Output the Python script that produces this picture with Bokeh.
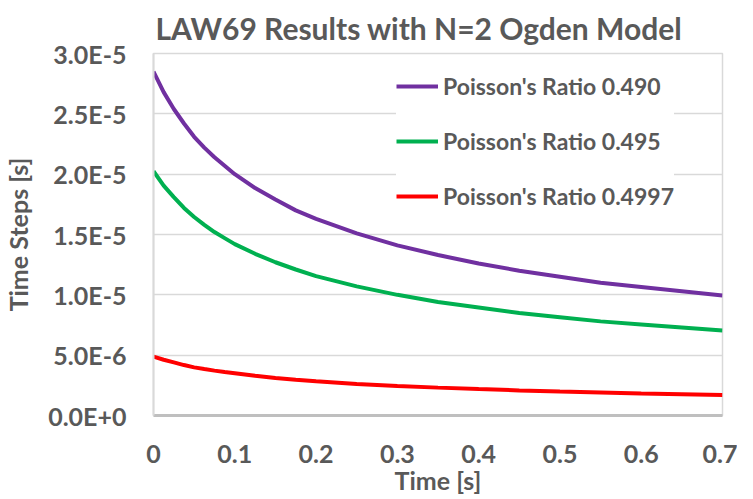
from bokeh.plotting import figure
from bokeh.models import Range1d, FixedTicker, Legend, LegendItem
from bokeh.embed import file_html
from bokeh.resources import INLINE

# ---- data ----
time_s = [0.0, 0.0125, 0.025, 0.0375, 0.05, 0.0625, 0.075, 0.0875, 0.10, 0.125, 0.15, 0.175,
          0.20, 0.25, 0.30, 0.35, 0.40, 0.45, 0.50, 0.55, 0.60, 0.65, 0.70]
ratio_0490 = [2.85e-5, 2.68e-5, 2.54e-5, 2.42e-5, 2.31e-5, 2.22e-5, 2.14e-5, 2.07e-5, 2.00e-5,
              1.885e-5, 1.79e-5, 1.70e-5, 1.63e-5, 1.51e-5, 1.41e-5, 1.33e-5, 1.26e-5,
              1.20e-5, 1.15e-5, 1.10e-5, 1.065e-5, 1.03e-5, 0.995e-5]
ratio_0495 = [2.025e-5, 1.905e-5, 1.81e-5, 1.72e-5, 1.645e-5, 1.58e-5, 1.52e-5, 1.47e-5, 1.42e-5,
              1.34e-5, 1.27e-5, 1.21e-5, 1.155e-5, 1.07e-5, 1.00e-5, 0.94e-5, 0.895e-5,
              0.85e-5, 0.815e-5, 0.78e-5, 0.755e-5, 0.73e-5, 0.705e-5]
ratio_04997 = [4.88e-6, 4.62e-6, 4.40e-6, 4.18e-6, 3.99e-6, 3.85e-6, 3.72e-6, 3.60e-6, 3.50e-6,
               3.29e-6, 3.11e-6, 2.97e-6, 2.84e-6, 2.62e-6, 2.45e-6, 2.31e-6, 2.19e-6,
               2.08e-6, 1.99e-6, 1.91e-6, 1.83e-6, 1.76e-6, 1.69e-6]
series_names = ["Poisson's Ratio 0.490", "Poisson's Ratio 0.495", "Poisson's Ratio 0.4997"]
series_colors = ["#7030A0", "#00B050", "#FF0000"]

x_ticks = [0, 0.1, 0.2, 0.3, 0.4, 0.5, 0.6, 0.7]
x_labels = ["0", "0.1", "0.2", "0.3", "0.4", "0.5", "0.6", "0.7"]
y_ticks = [0, 5e-6, 1e-5, 1.5e-5, 2e-5, 2.5e-5, 3e-5]
y_labels = ["0.0E+0", "5.0E-6", "1.0E-5", "1.5E-5", "2.0E-5", "2.5E-5", "3.0E-5"]
x_title = "Time [s]"
y_title = "Time Steps [s]"

FONT = "Lato"
TXT = "#595959"

p = figure(width=737, height=505, output_backend="svg", toolbar_location=None,
           x_range=Range1d(0, 0.7), y_range=Range1d(0, 3e-5),
           min_border_left=151, min_border_right=15, min_border_top=48, min_border_bottom=90,
           title="LAW69 Results with N=2 Ogden Model")

p.title.text_font = FONT
p.title.text_font_size = "30px"
p.title.text_font_style = "bold"
p.title.text_color = TXT
p.title.align = "left"
p.title.offset = 2
p.title.standoff = 15

p.outline_line_color = "#d9d9d9"
p.outline_line_width = 1.5
p.xgrid.grid_line_color = None
p.ygrid.grid_line_color = "#d9d9d9"
p.ygrid.grid_line_width = 1.5

p.xaxis.ticker = FixedTicker(ticks=x_ticks)
p.xaxis.major_label_overrides = dict(zip(x_ticks, x_labels))
p.yaxis.ticker = FixedTicker(ticks=y_ticks)
p.yaxis.major_label_overrides = dict(zip(y_ticks, y_labels))

for ax in (p.xaxis[0], p.yaxis[0]):
    ax.major_tick_line_color = None
    ax.minor_tick_line_color = None
    ax.major_label_text_font = FONT
    ax.major_label_text_font_size = "25px"
    ax.major_label_text_font_style = "bold"
    ax.major_label_text_color = TXT
    ax.axis_label_text_font = FONT
    ax.axis_label_text_font_size = "25px"
    ax.axis_label_text_font_style = "bold"
    ax.axis_label_text_color = TXT

p.xaxis.axis_label = x_title
p.yaxis.axis_label = y_title
p.xaxis.axis_line_color = "#bfbfbf"
p.xaxis.axis_line_width = 3
p.yaxis.axis_line_color = "#d9d9d9"
p.yaxis.axis_line_width = 2
p.xaxis.major_label_standoff = 23
p.xaxis.axis_label_standoff = -1
p.yaxis.major_label_standoff = 21
p.yaxis.axis_label_standoff = 12

renderers = []
for ys, c in zip([ratio_0490, ratio_0495, ratio_04997], series_colors):
    r = p.line(time_s, ys, line_color=c, line_width=4)
    renderers.append(r)

legend = Legend(items=[LegendItem(label=n, renderers=[r]) for n, r in zip(series_names, renderers)],
                location=(243, 204))
legend.border_line_color = None
legend.background_fill_color = "white"
legend.background_fill_alpha = 1
legend.padding = 8
legend.margin = 0
legend.spacing = 25
legend.glyph_width = 42
legend.glyph_height = 30
legend.label_height = 30
legend.label_standoff = 5
legend.label_text_font = FONT
legend.label_text_font_size = "23px"
legend.label_text_font_style = "bold"
legend.label_text_color = TXT
p.add_layout(legend, "center")

open("out.html", "w").write(file_html(p, INLINE))
